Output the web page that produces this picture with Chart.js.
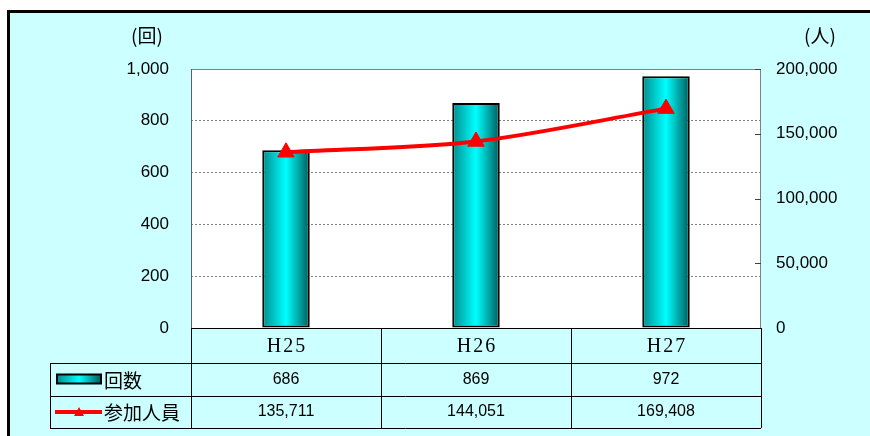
<!DOCTYPE html>
<html>
<head>
<meta charset="utf-8">
<script src="https://cdn.jsdelivr.net/npm/chart.js@4.4.0/dist/chart.umd.min.js"></script>
<style>
    body { margin: 0; background: #ffffff; }
    #chart { display: block; }
</style>
</head>
<body>
<canvas id="chart" width="870" height="436"></canvas>
<script>
// Data
const categories = ['H25', 'H26', 'H27'];
const sessionCounts = [686, 869, 972];
const participants = [135711, 144051, 169408];
const seriesNames = ['回数', '参加人員'];
const leftUnit = '(回)';
const rightUnit = '(人)';

const BG = '#ccffff';
const numFont = '"Liberation Sans", Arial, sans-serif';
const jpFont = '"Noto Sans CJK JP", sans-serif';

function fmt(v) {
    return Number(v).toLocaleString('en-US');
}

function barGradient(ctx, x0, x1) {
    const g = ctx.createLinearGradient(x0, 0, x1, 0);
    g.addColorStop(0, '#008c8c');
    g.addColorStop(0.5, '#00ffff');
    g.addColorStop(1, '#005a5a');
    return g;
}

// Background, frame and white plot area
const backgroundPlugin = {
    id: 'background',
    beforeDraw(chart) {
        const { ctx, chartArea: a } = chart;
        ctx.save();
        ctx.fillStyle = '#ffffff';
        ctx.fillRect(0, 0, chart.width, chart.height);
        ctx.fillStyle = BG;
        ctx.fillRect(8, 11, chart.width - 8, chart.height - 11);
        ctx.fillStyle = '#000000';
        ctx.fillRect(7, 10, chart.width - 7, 3);
        ctx.fillRect(7, 10, 3, chart.height - 10);
        ctx.fillStyle = '#ffffff';
        ctx.fillRect(a.left, a.top, a.right - a.left, a.bottom - a.top);
        ctx.restore();
    }
};

// Plot frame, unit labels and the data table under the plot
const tablePlugin = {
    id: 'dataTable',
    afterDraw(chart) {
        const { ctx, chartArea: a, scales } = chart;
        const x = scales.x;
        const y2 = scales.y2;
        const catW = (a.right - a.left) / categories.length;
        const rowTops = [a.bottom, a.bottom + 35, a.bottom + 68, a.bottom + 100];
        const tableLeft = 50;

        ctx.save();

        // plot frame
        ctx.strokeStyle = '#808080';
        ctx.lineWidth = 1;
        ctx.strokeRect(a.left + 0.5, a.top + 0.5, a.right - a.left - 1, a.bottom - a.top);
        ctx.strokeStyle = '#606060';
        ctx.beginPath();
        ctx.moveTo(a.left + 0.5, a.top);
        ctx.lineTo(a.left + 0.5, a.bottom);
        ctx.stroke();

        // inward ticks on the right axis
        ctx.strokeStyle = '#404040';
        y2.ticks.forEach(t => {
            const py = Math.round(y2.getPixelForValue(t.value)) + 0.5;
            ctx.beginPath();
            ctx.moveTo(a.right - 6, py);
            ctx.lineTo(a.right, py);
            ctx.stroke();
        });

        // unit labels
        ctx.fillStyle = '#000000';
        ctx.font = '19px ' + jpFont;
        ctx.textAlign = 'center';
        ctx.textBaseline = 'middle';
        ctx.fillText(leftUnit, 147, 36);
        ctx.fillText(rightUnit, 820, 36);

        // table grid
        ctx.strokeStyle = '#000000';
        ctx.lineWidth = 1;
        ctx.beginPath();
        ctx.moveTo(a.left, rowTops[0] + 0.5);
        ctx.lineTo(a.right, rowTops[0] + 0.5);
        for (let r = 1; r < rowTops.length; r++) {
            ctx.moveTo(tableLeft, rowTops[r] + 0.5);
            ctx.lineTo(a.right, rowTops[r] + 0.5);
        }
        ctx.moveTo(tableLeft + 0.5, rowTops[1]);
        ctx.lineTo(tableLeft + 0.5, rowTops[3]);
        for (let i = 0; i <= categories.length; i++) {
            const cx = Math.round(a.left + i * catW) + 0.5;
            ctx.moveTo(cx, rowTops[0]);
            ctx.lineTo(cx, rowTops[3]);
        }
        ctx.stroke();

        // category labels
        ctx.font = '20px "Liberation Serif", serif';
        ctx.letterSpacing = '2px';
        categories.forEach((c, i) => {
            ctx.fillText(c, x.getPixelForValue(i) + 1, (rowTops[0] + rowTops[1]) / 2 + 1);
        });
        ctx.letterSpacing = '0px';

        // value rows
        ctx.font = '16px ' + numFont;
        const rows = [sessionCounts, participants];
        rows.forEach((vals, r) => {
            const cy = (rowTops[r + 1] + rowTops[r + 2]) / 2;
            vals.forEach((v, i) => {
                ctx.fillText(fmt(v), x.getPixelForValue(i), cy);
            });
        });

        // legend keys
        const y1 = (rowTops[1] + rowTops[2]) / 2;
        ctx.fillStyle = barGradient(ctx, 57, 101);
        ctx.fillRect(57, y1 - 5, 44, 9);
        ctx.strokeStyle = '#000000';
        ctx.lineWidth = 2;
        ctx.strokeRect(57, y1 - 5, 44, 9);

        const yl = (rowTops[2] + rowTops[3]) / 2;
        ctx.strokeStyle = '#ff0000';
        ctx.lineWidth = 4;
        ctx.beginPath();
        ctx.moveTo(55, yl);
        ctx.lineTo(102, yl);
        ctx.stroke();
        ctx.fillStyle = '#ff0000';
        ctx.beginPath();
        ctx.moveTo(79, yl - 5);
        ctx.lineTo(84, yl + 4);
        ctx.lineTo(74, yl + 4);
        ctx.closePath();
        ctx.fill();

        ctx.fillStyle = '#000000';
        ctx.font = '19px ' + jpFont;
        ctx.textAlign = 'left';
        ctx.fillText(seriesNames[0], 104, y1 + 1);
        ctx.fillText(seriesNames[1], 104, yl + 1);

        ctx.restore();
    }
};

const chart = new Chart(document.getElementById('chart'), {
    data: {
        labels: categories,
        datasets: [
            {
                type: 'line',
                label: seriesNames[1],
                data: participants,
                yAxisID: 'y2',
                order: 0,
                borderColor: '#ff0000',
                borderWidth: 4,
                tension: 0.3,
                pointStyle: 'triangle',
                pointRadius: 9.5,
                pointBackgroundColor: '#ff0000',
                pointBorderColor: '#ff0000',
                pointBorderWidth: 1
            },
            {
                type: 'bar',
                label: seriesNames[0],
                data: sessionCounts,
                yAxisID: 'y',
                order: 1,
                categoryPercentage: 1,
                barPercentage: 0.25,
                borderColor: '#000000',
                borderWidth: 2,
                borderSkipped: false,
                backgroundColor: function(c) {
                    const ch = c.chart;
                    const xs = ch.scales.x;
                    if (!xs || c.type !== 'data') return '#00ffff';
                    const cx = xs.getPixelForValue(c.dataIndex);
                    const half = xs.width / categories.length * 0.25 / 2;
                    if (!Number.isFinite(cx) || !Number.isFinite(half) || half <= 0) return '#00ffff';
                    return barGradient(ch.ctx, cx - half, cx + half);
                }
            }
        ]
    },
    options: {
        responsive: false,
        animation: false,
        layout: { padding: { left: 0, right: 0, top: 69, bottom: 108 } },
        plugins: {
            legend: { display: false },
            tooltip: { enabled: false }
        },
        scales: {
            x: {
                display: false
            },
            y: {
                position: 'left',
                min: 0,
                max: 1000,
                ticks: {
                    stepSize: 200,
                    padding: 22,
                    color: '#000000',
                    font: { family: numFont, size: 17 },
                    callback: v => fmt(v)
                },
                grid: {
                    color: '#808080',
                    lineWidth: 1,
                    drawTicks: false
                },
                border: { display: false, dash: [2, 2] },
                afterFit(scale) { scale.width = 191; }
            },
            y2: {
                position: 'right',
                min: 0,
                max: 200000,
                ticks: {
                    stepSize: 50000,
                    padding: 15,
                    color: '#000000',
                    font: { family: numFont, size: 17 },
                    callback: v => fmt(v)
                },
                grid: { display: false, drawTicks: false },
                border: { display: false },
                afterFit(scale) { scale.width = 109; }
            }
        }
    },
    plugins: [backgroundPlugin, tablePlugin]
});
</script>
</body>
</html>
